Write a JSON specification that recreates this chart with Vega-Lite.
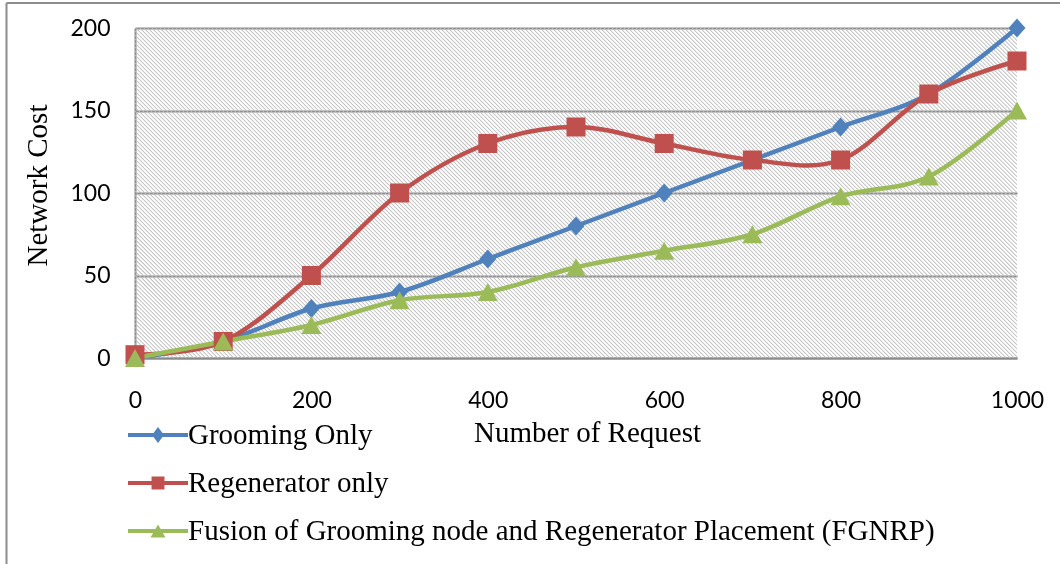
{
  "$schema": "https://vega.github.io/schema/vega-lite/v6.json",
  "width": 882,
  "height": 330,
  "autosize": {"type": "none"},
  "padding": {"left": 135, "top": 28, "right": 43, "bottom": 206},
  "background": "white",
  "config": {
    "view": {"stroke": null},
    "axisX": {
      "grid": false, "ticks": false, "domainColor": "#8c8c8c", "domainWidth": 2,
      "labelFont": "Lato", "labelFontSize": 23, "labelColor": "black",
      "labelPadding": 31, "labelBaseline": "top", "labelFlush": false, "labelOverlap": false,
      "titleFont": "Liberation Serif", "titleFontSize": 29, "titleFontWeight": "normal", "titleColor": "black",
      "titleX": 452, "titleY": 74, "titleBaseline": "middle", "titleAlign": "center"
    },
    "axisY": {
      "grid": true, "gridColor": "#8c8c8c", "gridWidth": 2, "ticks": false,
      "domainColor": "#8c8c8c", "domainWidth": 2,
      "labelFont": "Lato", "labelFontSize": 23, "labelColor": "black",
      "labelPadding": 25, "labelFlush": false, "labelOverlap": false,
      "titleFont": "Liberation Serif", "titleFontSize": 29, "titleFontWeight": "normal", "titleColor": "black",
      "titleX": -98, "titleY": 157, "titleAngle": -90, "titleBaseline": "middle", "titleAlign": "center"
    },
    "legend": {
      "orient": "none", "legendX": 8, "legendY": 392, "padding": 0,
      "symbolSize": 900, "symbolStrokeWidth": 0, "symbolOpacity": 1,
      "labelFont": "Liberation Serif", "labelFontSize": 29, "labelColor": "black",
      "labelOffset": 15, "labelLimit": 1000, "rowPadding": 18
    }
  },
  "data": {
    "values": [
      {"requests": 0, "cost": 0, "series": "Grooming Only"},
      {"requests": 100, "cost": 10, "series": "Grooming Only"},
      {"requests": 200, "cost": 30, "series": "Grooming Only"},
      {"requests": 300, "cost": 40, "series": "Grooming Only"},
      {"requests": 400, "cost": 60, "series": "Grooming Only"},
      {"requests": 500, "cost": 80, "series": "Grooming Only"},
      {"requests": 600, "cost": 100, "series": "Grooming Only"},
      {"requests": 700, "cost": 120, "series": "Grooming Only"},
      {"requests": 800, "cost": 140, "series": "Grooming Only"},
      {"requests": 900, "cost": 160, "series": "Grooming Only"},
      {"requests": 1000, "cost": 200, "series": "Grooming Only"},
      {"requests": 0, "cost": 2, "series": "Regenerator only"},
      {"requests": 100, "cost": 10, "series": "Regenerator only"},
      {"requests": 200, "cost": 50, "series": "Regenerator only"},
      {"requests": 300, "cost": 100, "series": "Regenerator only"},
      {"requests": 400, "cost": 130, "series": "Regenerator only"},
      {"requests": 500, "cost": 140, "series": "Regenerator only"},
      {"requests": 600, "cost": 130, "series": "Regenerator only"},
      {"requests": 700, "cost": 120, "series": "Regenerator only"},
      {"requests": 800, "cost": 120, "series": "Regenerator only"},
      {"requests": 900, "cost": 160, "series": "Regenerator only"},
      {"requests": 1000, "cost": 180, "series": "Regenerator only"},
      {"requests": 0, "cost": 0, "series": "Fusion of Grooming node and Regenerator Placement (FGNRP)"},
      {"requests": 100, "cost": 10, "series": "Fusion of Grooming node and Regenerator Placement (FGNRP)"},
      {"requests": 200, "cost": 20, "series": "Fusion of Grooming node and Regenerator Placement (FGNRP)"},
      {"requests": 300, "cost": 35, "series": "Fusion of Grooming node and Regenerator Placement (FGNRP)"},
      {"requests": 400, "cost": 40, "series": "Fusion of Grooming node and Regenerator Placement (FGNRP)"},
      {"requests": 500, "cost": 55, "series": "Fusion of Grooming node and Regenerator Placement (FGNRP)"},
      {"requests": 600, "cost": 65, "series": "Fusion of Grooming node and Regenerator Placement (FGNRP)"},
      {"requests": 700, "cost": 75, "series": "Fusion of Grooming node and Regenerator Placement (FGNRP)"},
      {"requests": 800, "cost": 98, "series": "Fusion of Grooming node and Regenerator Placement (FGNRP)"},
      {"requests": 900, "cost": 110, "series": "Fusion of Grooming node and Regenerator Placement (FGNRP)"},
      {"requests": 1000, "cost": 150, "series": "Fusion of Grooming node and Regenerator Placement (FGNRP)"}
    ]
  },
  "layer": [
    {
      "data": {"values": [{}]},
      "mark": {"type": "rule", "clip": true, "color": "#bcbcbc", "strokeWidth": 900, "strokeDash": [0.9, 1.93], "strokeCap": "butt", "blend": "darken"},
      "encoding": {
        "x": {"datum": 1.1, "type": "quantitative", "scale": {"domain": [0, 1000], "nice": false}, "axis": {"title": "Number of Request"}},
        "x2": {"datum": 998.9},
        "y": {"datum": -166.7, "type": "quantitative", "scale": {"domain": [0, 200], "nice": false}, "axis": {"title": "Network Cost"}},
        "y2": {"datum": 366.7}
      }
    },
    {
      "data": {"values": [{}]},
      "mark": {"type": "rule", "clip": false, "color": "#8c8c8c", "strokeWidth": 2},
      "encoding": {
        "x": {"datum": -145.7, "type": "quantitative", "scale": {"domain": [0, 1000], "nice": false}, "axis": {"title": "Number of Request"}},
        "y": {"datum": 215.2, "type": "quantitative", "scale": {"domain": [0, 200], "nice": false}, "axis": {"title": "Network Cost"}},
        "y2": {"datum": -125}
      }
    },
    {
      "data": {"values": [{}]},
      "mark": {"type": "rule", "clip": false, "color": "#8c8c8c", "strokeWidth": 2},
      "encoding": {
        "x": {"datum": -145.7, "type": "quantitative", "scale": {"domain": [0, 1000], "nice": false}, "axis": {"title": "Number of Request"}},
        "x2": {"datum": 1049},
        "y": {"datum": 215.2, "type": "quantitative", "scale": {"domain": [0, 200], "nice": false}, "axis": {"title": "Network Cost"}}
      }
    },
    {
      "mark": {"type": "line", "interpolate": "cardinal", "strokeWidth": 4.5, "strokeCap": "round", "strokeJoin": "round"},
      "encoding": {
        "x": {"field": "requests", "type": "quantitative", "scale": {"domain": [0, 1000], "nice": false},
              "axis": {"title": "Number of Request", "values": [0, 200, 400, 600, 800, 1000], "format": "d"}},
        "y": {"field": "cost", "type": "quantitative", "scale": {"domain": [0, 200], "nice": false},
              "axis": {"title": "Network Cost", "values": [0, 50, 100, 150, 200], "format": "d"}},
        "color": {
          "field": "series", "type": "nominal", "legend": {"title": null},
          "scale": {
            "domain": ["Grooming Only", "Regenerator only", "Fusion of Grooming node and Regenerator Placement (FGNRP)"],
            "range": ["#4f81bd", "#c0504d", "#9bbb59"]
          }
        }
      }
    },
    {
      "mark": {"type": "point", "filled": true, "opacity": 0, "size": 900},
      "encoding": {
        "x": {"field": "requests", "type": "quantitative", "scale": {"domain": [0, 1000], "nice": false}, "axis": {"title": "Number of Request"}},
        "y": {"field": "cost", "type": "quantitative", "scale": {"domain": [0, 200], "nice": false}, "axis": {"title": "Network Cost"}},
        "color": {
          "field": "series", "type": "nominal", "legend": {"title": null},
          "scale": {
            "domain": ["Grooming Only", "Regenerator only", "Fusion of Grooming node and Regenerator Placement (FGNRP)"],
            "range": ["#4f81bd", "#c0504d", "#9bbb59"]
          }
        },
        "shape": {
          "field": "series", "type": "nominal", "legend": {"title": null},
          "scale": {
            "domain": ["Grooming Only", "Regenerator only", "Fusion of Grooming node and Regenerator Placement (FGNRP)"],
            "range": [
              "M-2,-0.133H2V0.133H-2Z M0,-0.53L0.4,0L0,0.53L-0.4,0Z",
              "M-2,-0.133H2V0.133H-2Z M-0.43,-0.43H0.43V0.43H-0.43Z",
              "M-2,-0.133H2V0.133H-2Z M0,-0.43L0.5,0.43H-0.5Z"
            ]
          }
        }
      }
    },
    {
      "transform": [{"filter": "datum.series === 'Grooming Only'"}],
      "mark": {"type": "point", "filled": true, "opacity": 1, "size": 400, "strokeWidth": 0, "shape": "M0,-0.95L0.85,0L0,0.95L-0.85,0Z"},
      "encoding": {
        "x": {"field": "requests", "type": "quantitative", "scale": {"domain": [0, 1000], "nice": false}, "axis": {"title": "Number of Request"}},
        "y": {"field": "cost", "type": "quantitative", "scale": {"domain": [0, 200], "nice": false}, "axis": {"title": "Network Cost"}},
        "color": {
          "field": "series", "type": "nominal", "legend": {"title": null},
          "scale": {
            "domain": ["Grooming Only", "Regenerator only", "Fusion of Grooming node and Regenerator Placement (FGNRP)"],
            "range": ["#4f81bd", "#c0504d", "#9bbb59"]
          }
        }
      }
    },
    {
      "transform": [{"filter": "datum.series === 'Regenerator only'"}],
      "mark": {"type": "point", "filled": true, "opacity": 1, "size": 400, "strokeWidth": 0, "shape": "M-0.95,-0.95H0.95V0.95H-0.95Z"},
      "encoding": {
        "x": {"field": "requests", "type": "quantitative", "scale": {"domain": [0, 1000], "nice": false}, "axis": {"title": "Number of Request"}},
        "y": {"field": "cost", "type": "quantitative", "scale": {"domain": [0, 200], "nice": false}, "axis": {"title": "Network Cost"}},
        "color": {
          "field": "series", "type": "nominal", "legend": {"title": null},
          "scale": {
            "domain": ["Grooming Only", "Regenerator only", "Fusion of Grooming node and Regenerator Placement (FGNRP)"],
            "range": ["#4f81bd", "#c0504d", "#9bbb59"]
          }
        }
      }
    },
    {
      "transform": [{"filter": "datum.series === 'Fusion of Grooming node and Regenerator Placement (FGNRP)'"}],
      "mark": {"type": "point", "filled": true, "opacity": 1, "size": 400, "strokeWidth": 0, "shape": "M0,-0.9L1,0.9H-1Z"},
      "encoding": {
        "x": {"field": "requests", "type": "quantitative", "scale": {"domain": [0, 1000], "nice": false}, "axis": {"title": "Number of Request"}},
        "y": {"field": "cost", "type": "quantitative", "scale": {"domain": [0, 200], "nice": false}, "axis": {"title": "Network Cost"}},
        "color": {
          "field": "series", "type": "nominal", "legend": {"title": null},
          "scale": {
            "domain": ["Grooming Only", "Regenerator only", "Fusion of Grooming node and Regenerator Placement (FGNRP)"],
            "range": ["#4f81bd", "#c0504d", "#9bbb59"]
          }
        }
      }
    }
  ]
}
